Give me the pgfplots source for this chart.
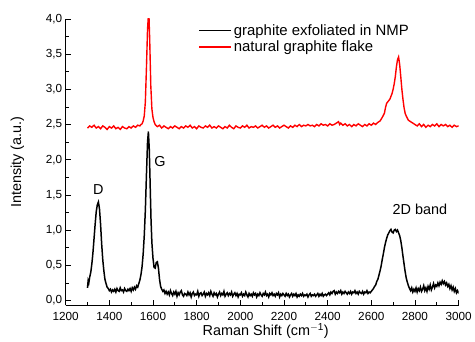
\documentclass[border=0pt]{standalone}
\usepackage{fontspec}
\setmainfont{Liberation Sans}
\usepackage{pgfplots}
\pgfplotsset{compat=1.18}
\begin{document}
\begin{tikzpicture}
\begin{axis}[
  name=ax,
  scale only axis,
  width=395pt, height=288pt,
  axis lines*=left,
  xmin=1200, xmax=3000,
  ymin=-0.07, ymax=4.0,
  xtick={1200,1400,...,3000},
  ytick={0,0.5,1,1.5,2,2.5,3,3.5,4},
  minor x tick num=1,
  minor y tick num=1,
  tick align=inside,
  major tick length=5pt,
  minor tick length=3.5pt,
  tick style={black, line width=0.8pt},
  axis line style={black, line width=0.9pt},
  /pgf/number format/assume math mode=true,
  x tick label style={/pgf/number format/1000 sep={}, yshift=-3pt},
  y tick label style={/pgf/number format/use comma, /pgf/number format/fixed, /pgf/number format/fixed zerofill, /pgf/number format/precision=1},
  tick label style={font=\fontsize{11.8}{13}\selectfont},
  label style={font=\fontsize{14.5}{16}\selectfont},
  xlabel={Raman Shift (cm$^{\mathrm{-1}}$)},
  ylabel={Intensity (a.u.)},
  xlabel style={at={(axis description cs:0.509,0)}, anchor=center, yshift=-25.5pt},
  ylabel style={at={(axis description cs:-0.123,0.5)}, anchor=center},
  legend style={draw=none, fill=none, at={(rel axis cs:0.33,0.995)}, anchor=north west,
    font=\fontsize{15}{17}\selectfont, row sep=0pt},
  legend cell align=left,
  legend image code/.code={\draw[#1] (0pt,0pt) -- (32pt,0pt);},
]
\addplot[black, line width=1.5pt] coordinates {
(1300,0.18)(1303,0.28)(1306,0.25)(1310,0.33)(1315,0.40)(1320,0.52)(1325,0.68)(1330,0.88)(1335,1.08)(1340,1.26)
(1345,1.36)(1350,1.40)(1355,1.30)(1360,1.08)(1365,0.80)(1370,0.58)(1375,0.42)(1380,0.30)(1385,0.24)(1390,0.19)
(1395,0.17)(1400,0.14)(1405,0.16)(1410,0.12)(1415,0.15)(1420,0.13)(1425,0.16)(1430,0.12)(1435,0.17)(1440,0.14)
(1445,0.13)(1450,0.18)(1455,0.14)(1460,0.15)(1465,0.12)(1470,0.17)(1475,0.14)(1480,0.13)(1485,0.16)(1490,0.14)
(1495,0.17)(1500,0.13)(1505,0.18)(1510,0.15)(1515,0.19)(1520,0.16)(1525,0.21)(1530,0.19)(1535,0.24)(1540,0.29)
(1545,0.37)(1550,0.48)(1555,0.66)(1560,0.92)(1565,1.28)(1570,1.78)(1575,2.25)(1579,2.40)(1583,2.15)(1587,1.65)
(1591,1.15)(1595,0.82)(1600,0.60)(1605,0.47)(1610,0.46)(1615,0.54)(1620,0.55)(1625,0.46)(1630,0.30)(1635,0.20)
(1640,0.16)(1645,0.13)
(1650,0.15)(1655,0.10)(1660,0.13)(1665,0.09)(1670,0.12)(1675,0.08)(1680,0.14)(1685,0.10)(1690,0.07)(1695,0.12)
(1700,0.09)(1705,0.13)(1710,0.06)(1715,0.11)(1720,0.08)(1725,0.12)(1730,0.14)(1735,0.08)(1740,0.06)(1745,0.10)
(1750,0.09)(1755,0.07)(1760,0.12)(1765,0.08)(1770,0.11)(1775,0.05)(1780,0.10)(1785,0.12)(1790,0.07)(1795,0.09)
(1800,0.08)(1805,0.13)(1810,0.06)(1815,0.10)(1820,0.11)(1825,0.07)(1830,0.09)(1835,0.12)(1840,0.06)(1845,0.10)
(1850,0.08)(1855,0.11)(1860,0.07)(1865,0.13)(1870,0.09)(1875,0.06)(1880,0.11)(1885,0.08)(1890,0.10)(1895,0.05)
(1900,0.09)(1905,0.12)(1910,0.07)(1915,0.10)(1920,0.08)(1925,0.13)(1930,0.06)(1935,0.09)(1940,0.11)(1945,0.07)
(1950,0.10)(1955,0.08)(1960,0.12)(1965,0.06)(1970,0.09)(1975,0.11)(1980,0.07)(1985,0.10)(1990,0.05)(1995,0.09)
(2000,0.08)(2005,0.11)(2010,0.06)(2015,0.09)(2020,0.07)(2025,0.12)(2030,0.08)(2035,0.05)(2040,0.10)(2045,0.07)
(2050,0.09)(2055,0.06)(2060,0.11)(2065,0.08)(2070,0.10)(2075,0.05)(2080,0.09)(2085,0.07)(2090,0.11)(2095,0.08)
(2100,0.06)(2105,0.10)(2110,0.08)(2115,0.12)(2120,0.07)(2125,0.09)(2130,0.05)(2135,0.10)(2140,0.08)(2145,0.11)
(2150,0.07)(2155,0.09)(2160,0.06)(2165,0.10)(2170,0.08)(2175,0.11)(2180,0.05)(2185,0.09)(2190,0.07)(2195,0.10)
(2200,0.08)(2205,0.06)(2210,0.10)(2215,0.07)(2220,0.09)(2225,0.05)(2230,0.08)(2235,0.10)(2240,0.06)(2245,0.09)
(2250,0.07)(2255,0.10)(2260,0.05)(2265,0.08)(2270,0.06)(2275,0.09)(2280,0.07)(2285,0.10)(2290,0.06)(2295,0.08)
(2300,0.07)(2305,0.09)(2310,0.05)(2315,0.08)(2320,0.10)(2325,0.06)(2330,0.08)(2335,0.07)(2340,0.09)(2345,0.06)
(2350,0.08)(2355,0.10)(2360,0.06)(2365,0.09)(2370,0.07)(2375,0.10)(2380,0.06)(2385,0.08)(2390,0.09)(2395,0.07)
(2400,0.09)(2405,0.11)(2410,0.08)(2415,0.12)(2420,0.10)(2425,0.13)(2430,0.14)(2435,0.09)(2440,0.12)(2445,0.10)
(2450,0.13)(2455,0.11)(2460,0.14)(2465,0.09)(2470,0.12)(2475,0.10)(2480,0.13)(2485,0.11)(2490,0.09)(2495,0.12)
(2500,0.10)(2505,0.13)(2510,0.09)(2515,0.12)(2520,0.11)(2525,0.14)(2530,0.10)(2535,0.12)(2540,0.09)(2545,0.13)
(2550,0.11)(2555,0.10)(2560,0.13)(2565,0.09)(2570,0.12)(2575,0.11)(2580,0.14)(2585,0.10)(2590,0.12)(2595,0.11)
(2600,0.13)(2605,0.15)(2610,0.17)(2615,0.20)(2620,0.22)(2625,0.27)(2630,0.30)(2635,0.36)(2640,0.42)(2645,0.49)
(2650,0.58)(2655,0.66)(2660,0.75)(2665,0.82)(2670,0.88)(2675,0.93)(2680,0.96)(2685,0.99)(2690,1.01)(2695,0.97)
(2700,0.96)(2705,1.00)(2710,1.01)(2715,0.98)(2720,1.00)(2725,0.96)(2730,0.92)(2735,0.85)(2740,0.75)(2745,0.63)
(2750,0.52)(2755,0.41)(2760,0.32)(2765,0.26)(2770,0.21)(2775,0.17)(2780,0.14)(2785,0.18)(2790,0.12)(2795,0.16)
(2800,0.13)(2805,0.18)(2810,0.12)(2815,0.17)(2820,0.14)(2825,0.19)(2830,0.13)(2835,0.16)(2840,0.21)(2845,0.14)
(2850,0.18)(2855,0.13)(2860,0.20)(2865,0.16)(2870,0.22)(2875,0.15)(2880,0.19)(2885,0.24)(2890,0.18)(2895,0.22)
(2900,0.20)(2905,0.25)(2910,0.21)(2915,0.26)(2920,0.23)(2925,0.28)(2930,0.24)(2935,0.27)(2940,0.22)(2945,0.25)
(2950,0.20)(2955,0.23)(2960,0.17)(2965,0.21)(2970,0.15)(2975,0.19)(2980,0.13)(2985,0.17)(2990,0.11)(2995,0.14)
(3000,0.10)
};
\addlegendentry{graphite exfoliated in NMP}
\addplot[red, line width=1.4pt] coordinates {
(1300,2.45)(1310,2.48)(1320,2.46)(1330,2.49)(1340,2.45)(1350,2.47)(1360,2.44)(1370,2.48)(1380,2.46)(1390,2.43)
(1400,2.47)(1410,2.45)(1420,2.48)(1430,2.44)(1440,2.46)(1450,2.43)(1460,2.47)(1470,2.45)(1480,2.44)(1490,2.47)
(1500,2.45)(1510,2.48)(1520,2.46)(1530,2.49)(1540,2.48)(1545,2.50)(1550,2.51)(1555,2.55)(1560,2.62)(1565,2.82)
(1570,3.30)(1575,3.85)(1578,4.00)(1582,4.00)(1585,3.70)(1590,3.05)(1595,2.72)(1600,2.60)(1605,2.54)(1610,2.50)
(1620,2.47)(1630,2.49)(1640,2.45)(1650,2.48)(1660,2.46)(1670,2.44)(1680,2.47)(1690,2.45)(1700,2.48)(1710,2.46)
(1720,2.44)(1730,2.47)(1740,2.45)(1750,2.48)(1760,2.46)(1770,2.49)(1780,2.45)(1790,2.47)(1800,2.44)(1810,2.48)
(1820,2.46)(1830,2.45)(1840,2.48)(1850,2.46)(1860,2.49)(1870,2.45)(1880,2.47)(1890,2.45)(1900,2.48)(1910,2.46)
(1920,2.44)(1930,2.47)(1940,2.45)(1950,2.49)(1960,2.46)(1970,2.44)(1980,2.48)(1990,2.46)(2000,2.45)(2010,2.48)
(2020,2.46)(2030,2.49)(2040,2.45)(2050,2.47)(2060,2.46)(2070,2.48)(2080,2.45)(2090,2.47)(2100,2.49)(2110,2.46)
(2120,2.48)(2130,2.45)(2140,2.47)(2150,2.49)(2160,2.46)(2170,2.48)(2180,2.45)(2190,2.47)(2200,2.49)(2210,2.47)
(2220,2.45)(2230,2.48)(2240,2.46)(2250,2.49)(2260,2.47)(2270,2.50)(2280,2.47)(2290,2.49)(2300,2.48)(2310,2.50)
(2320,2.48)(2330,2.49)(2340,2.47)(2350,2.50)(2360,2.48)(2370,2.51)(2380,2.49)(2390,2.50)(2400,2.48)(2410,2.51)
(2420,2.49)(2430,2.50)(2440,2.52)(2450,2.54)(2455,2.50)(2460,2.52)(2470,2.49)(2480,2.51)(2490,2.48)(2500,2.50)
(2510,2.47)(2520,2.50)(2530,2.48)(2540,2.51)(2550,2.49)(2560,2.47)(2570,2.50)(2580,2.48)(2590,2.51)(2600,2.49)
(2610,2.52)(2620,2.50)(2630,2.53)(2640,2.55)(2650,2.60)(2660,2.66)(2665,2.74)(2670,2.80)(2675,2.82)(2680,2.84)
(2685,2.86)(2690,2.90)(2695,2.94)(2700,3.00)(2705,3.08)(2710,3.18)(2715,3.32)(2720,3.42)(2725,3.46)(2730,3.35)
(2735,3.18)(2740,3.00)(2745,2.86)(2750,2.74)(2755,2.66)(2760,2.62)(2770,2.56)(2780,2.54)(2790,2.52)(2800,2.50)
(2810,2.48)(2820,2.51)(2830,2.47)(2840,2.50)(2850,2.46)(2860,2.49)(2870,2.47)(2880,2.50)(2890,2.48)(2900,2.51)
(2910,2.47)(2920,2.50)(2930,2.48)(2940,2.50)(2950,2.47)(2960,2.49)(2970,2.46)(2980,2.49)(2990,2.47)(3000,2.48)
};
\addlegendentry{natural graphite flake}
\node[font=\fontsize{14.5}{16}\selectfont] at (axis cs:1350,1.58) {D};
\node[font=\fontsize{14.5}{16}\selectfont] at (axis cs:1632,1.98) {G};
\node[font=\fontsize{14.5}{16}\selectfont] at (axis cs:2823,1.29) {2D band};
\end{axis}
\path (ax.south west) ++(-66pt,-33pt) rectangle ++(475pt,340pt);
\end{tikzpicture}
\end{document}
